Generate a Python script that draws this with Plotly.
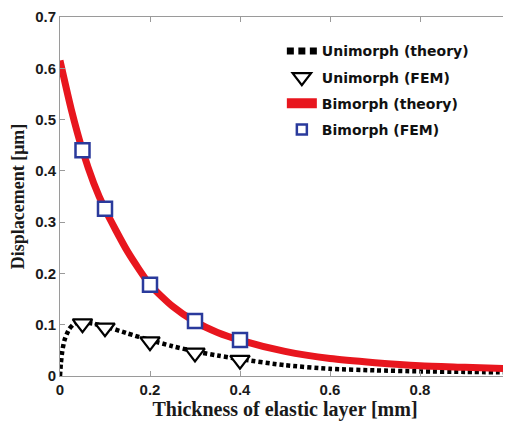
import plotly.graph_objects as go

# Unimorph theory curve
uni_theory_x = [0, 0.002, 0.005, 0.01, 0.02, 0.03, 0.04, 0.05, 0.075, 0.1, 0.15, 0.2, 0.25, 0.3, 0.35, 0.4, 0.5, 0.6, 0.7, 0.8, 0.9, 1.0]
uni_theory_y = [0, 0.025, 0.048, 0.07, 0.091, 0.101, 0.105, 0.105, 0.102, 0.097, 0.083, 0.07, 0.058, 0.048, 0.04, 0.033, 0.021, 0.014, 0.011, 0.009, 0.008, 0.007]

# Unimorph FEM points
uni_fem_x = [0.05, 0.1, 0.2, 0.3, 0.4]
uni_fem_y = [0.102, 0.094, 0.067, 0.045, 0.031]

# Bimorph theory curve
bi_theory_x = [0, 0.025, 0.05, 0.075, 0.1, 0.15, 0.2, 0.25, 0.3, 0.35, 0.4, 0.5, 0.6, 0.7, 0.8, 0.9, 1.0]
bi_theory_y = [0.615, 0.52, 0.44, 0.376, 0.325, 0.243, 0.178, 0.136, 0.106, 0.085, 0.07, 0.048, 0.034, 0.026, 0.02, 0.017, 0.014]

# Bimorph FEM points
bi_fem_x = [0.05, 0.1, 0.2, 0.3, 0.4]
bi_fem_y = [0.44, 0.326, 0.178, 0.107, 0.07]

x_ticks = [0, 0.2, 0.4, 0.6, 0.8, 1.0]
x_tick_labels = ["0", "0.2", "0.4", "0.6", "0.8", "1"]
y_ticks = [0, 0.1, 0.2, 0.3, 0.4, 0.5, 0.6, 0.7]
y_tick_labels = ["0", "0.1", "0.2", "0.3", "0.4", "0.5", "0.6", "0.7"]

RED = "#e8161e"
BLUE = "#2a3a9c"

fig = go.Figure()
fig.add_trace(go.Scatter(
    x=uni_theory_x, y=uni_theory_y, mode="lines", name="Unimorph (theory)",
    line=dict(color="black", width=4.5, dash="4px,3px", shape="spline", smoothing=0.6),
    showlegend=False))
fig.add_trace(go.Scatter(
    x=bi_theory_x, y=bi_theory_y, mode="lines", name="Bimorph (theory)",
    line=dict(color=RED, width=7, shape="spline", smoothing=0.6),
    showlegend=False))
fig.add_trace(go.Scatter(
    x=uni_fem_x, y=uni_fem_y, mode="markers", name="Unimorph (FEM)",
    marker=dict(symbol="triangle-down", size=17, color="white",
                line=dict(color="black", width=2.2)),
    showlegend=False))
fig.add_trace(go.Scatter(
    x=bi_fem_x, y=bi_fem_y, mode="markers", name="Bimorph (FEM)",
    marker=dict(symbol="square", size=14, color="white",
                line=dict(color=BLUE, width=2.5)),
    showlegend=False))

# legend entries
fig.add_trace(go.Scatter(
    x=[None], y=[None], mode="lines", name="Unimorph (theory)",
    line=dict(color="black", width=7, dash="7px,4.5px"), legendgroup="a"))
fig.add_trace(go.Scatter(
    x=[None], y=[None], mode="markers", name="Unimorph (FEM)",
    marker=dict(symbol="triangle-down", size=16, color="white",
                line=dict(color="black", width=2.2)), legendgroup="b"))
fig.add_trace(go.Scatter(
    x=[None], y=[None], mode="lines", name="Bimorph (theory)",
    line=dict(color=RED, width=10), legendgroup="c"))
fig.add_trace(go.Scatter(
    x=[None], y=[None], mode="markers", name="Bimorph (FEM)",
    marker=dict(symbol="square", size=10, color="white",
                line=dict(color=BLUE, width=2.5)), legendgroup="d"))

axis_common = dict(
    showline=True, linecolor="#9a9a9a", linewidth=1, mirror="ticks",
    ticks="inside", ticklen=5, tickcolor="#9a9a9a", showgrid=False, zeroline=False,
    automargin=False, ticklabeloverflow="allow",
    tickfont=dict(family="Liberation Sans", size=15, color="#1a1a1a", weight="bold"),
)

# page body has an 8px default margin; size the figure so it fills the window
fig.update_layout(
    width=503, height=413,
    margin=dict(l=52, r=1, t=9, b=45),
    paper_bgcolor="white", plot_bgcolor="white",
    xaxis=dict(range=[0, 1.0], tickvals=x_ticks, ticktext=x_tick_labels,
               title=dict(text="Thickness of elastic layer [mm]", standoff=0,
                          font=dict(family="Liberation Serif", size=20, color="#1a1a1a", weight="bold")),
               **axis_common),
    yaxis=dict(range=[0, 0.7], tickvals=y_ticks, ticktext=y_tick_labels,
               title=dict(text="Displacement [μm]", standoff=6,
                          font=dict(family="Liberation Serif", size=18, color="#1a1a1a", weight="bold")),
               **axis_common),
    legend=dict(x=0.493, y=0.949, xanchor="left", yanchor="top",
                bgcolor="rgba(0,0,0,0)", tracegroupgap=5,
                font=dict(family="DejaVu Sans", size=14, color="#111111", weight="bold"),
                traceorder="grouped"),
    showlegend=True,
)

fig.write_html("out.html")
